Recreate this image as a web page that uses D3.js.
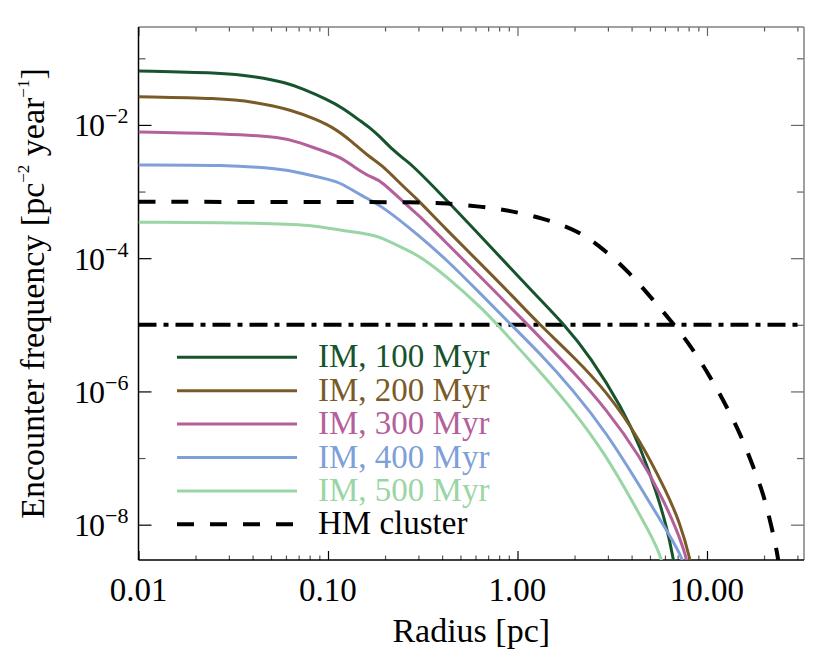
<!DOCTYPE html>
<html>
<head>
<script src="https://d3js.org/d3.v7.min.js"></script>
<style>
  body { margin: 0; background: #fff; }
</style>
</head>
<body>
<div id="chart"></div>
<script>
// radius [pc], encounter frequency [pc^-2 yr^-1]
var im100 = [[0.01,6.46e-2],[0.027,6.08e-2],[0.042,5.3e-2],[0.0605,4.3e-2],[0.074,3.47e-2],[0.098,2.45e-2],[0.12,1.8e-2],[0.153,1.07e-2],[0.167,9.0e-3],[0.188,6.67e-3],[0.22,4.2e-3],[0.255,2.99e-3],[0.277,2.51e-3],[0.39,9.46e-4],[0.634,2.19e-4],[0.946,6.5e-5],[1.26,2.72e-5],[1.75,1.04e-5],[2.42,3.35e-6],[3.61,5.31e-7],[4.43,1.5e-7],[5.43,2.99e-8],[6.12,9.4e-9],[6.64,3.16e-9],[6.9,1.5e-9]];
var im200 = [[0.01,2.65e-2],[0.027,2.51e-2],[0.04,2.24e-2],[0.065,1.68e-2],[0.0875,1.19e-2],[0.106,9.23e-3],[0.131,5.96e-3],[0.167,3.2e-3],[0.188,2.67e-3],[0.26,1.06e-3],[0.281,8.9e-4],[0.423,2.66e-4],[0.634,8.43e-5],[0.946,2.66e-5],[1.31,1.0e-5],[1.96,3.4e-6],[2.96,1.0e-6],[4.43,1.88e-7],[6.12,3.1e-8],[7.21,1.06e-8],[8.13,3.16e-9],[8.5,1.5e-9]];
var im300 = [[0.01,7.85e-3],[0.029,7.41e-3],[0.058,6.53e-3],[0.071,5.42e-3],[0.094,4.07e-3],[0.116,3.35e-3],[0.153,1.88e-3],[0.173,1.6e-3],[0.188,1.5e-3],[0.271,5.62e-4],[0.294,4.73e-4],[0.423,1.68e-4],[0.634,5.31e-5],[1.12,1.04e-5],[1.31,6.5e-6],[1.96,2.0e-6],[2.96,5.31e-7],[4.43,1.06e-7],[5.88,2.37e-8],[6.92,8.41e-9],[7.82,3.16e-9],[8.2,1.5e-9]];
var im400 = [[0.01,2.51e-3],[0.029,2.51e-3],[0.056,2.19e-3],[0.071,1.92e-3],[0.103,1.5e-3],[0.116,1.36e-3],[0.153,8.41e-4],[0.195,5.96e-4],[0.306,2.11e-4],[0.423,9.44e-5],[0.634,2.99e-5],[0.912,1.04e-5],[1.31,3.76e-6],[1.96,1.06e-6],[2.96,2.37e-7],[4.43,3.76e-8],[5.65,1.19e-8],[7.5,3.16e-9],[7.9,1.5e-9]];
var im500 = [[0.01,3.47e-4],[0.058,3.35e-4],[0.083,3.09e-4],[0.12,2.6e-4],[0.153,2.37e-4],[0.167,2.24e-4],[0.188,2.11e-4],[0.271,1.26e-4],[0.306,1.06e-4],[0.423,5.31e-5],[0.634,1.88e-5],[0.776,1.04e-5],[1.31,2.0e-6],[1.96,5.31e-7],[2.96,1.06e-7],[4.08,2.11e-8],[5.0,7.5e-9],[5.77,3.16e-9],[6.1,1.5e-9]];
var hmCluster = [[0.01,7.0e-4],[0.1,7.0e-4],[0.3,6.9e-4],[0.423,6.7e-4],[0.634,5.96e-4],[0.912,5.19e-4],[1.36,3.98e-4],[2.05,2.66e-4],[2.82,1.41e-4],[3.93,5.96e-5],[5.19,2.37e-5],[6.64,1.04e-5],[8.13,5.01e-6],[10.4,1.66e-6],[12.7,5.96e-7],[15.2,2.11e-7],[17.5,7.5e-8],[19.8,2.99e-8],[21.9,9.44e-9],[23.7,3.35e-9],[24.5,1.5e-9]];
var thresholdLevel = 1e-5;

var seriesNames = ["IM, 100 Myr", "IM, 200 Myr", "IM, 300 Myr", "IM, 400 Myr", "IM, 500 Myr", "HM cluster"];
var seriesColors = ["#17532d", "#7a5b27", "#b3609b", "#7e9fd8", "#99d5a5", "#000000"];
var seriesData = [im100, im200, im300, im400, im500, hmCluster];

var xTickLabels = [0.01, 0.1, 1, 10];
var yTickLabels = [-2, -4, -6, -8];   // exponents
var yMinorExps = [-1, -3, -5, -7];

var serif = "'Liberation Serif', 'Times New Roman', Tinos, Times, 'DejaVu Serif', serif";
var width = 830, height = 663;
var margin = {left: 138.5, right: 26, top: 27, bottom: 103};

var svg = d3.select("#chart").append("svg")
  .attr("width", width)
  .attr("height", height)
  .attr("font-family", serif);

var x = d3.scaleLog().domain([0.01, 32.5]).range([margin.left, width - margin.right]);
var y = d3.scaleLog().domain([2.95e-9, 0.295]).range([height - margin.bottom, margin.top]);

svg.append("defs").append("clipPath").attr("id", "plotclip")
  .append("rect")
  .attr("x", margin.left).attr("y", margin.top)
  .attr("width", x.range()[1] - x.range()[0])
  .attr("height", y.range()[0] - y.range()[1]);

// x tick values: all 1..9 multiples inside the domain
var xMinor = [];
[-2, -1, 0, 1].forEach(function (e) {
  for (var m = 2; m <= 9; m++) {
    var v = m * Math.pow(10, e);
    if (v <= x.domain()[1]) xMinor.push(v);
  }
});

function styleAxis(g, color) {
  g.select(".domain").remove();
  g.selectAll(".tick line").attr("stroke", color).attr("stroke-width", 1.2);
  g.selectAll(".tick text").remove();
}

var x0 = x.range()[0], x1 = x.range()[1], y0 = y.range()[0], y1 = y.range()[1];

// bottom / top
svg.append("g").attr("transform", "translate(0," + y0 + ")")
  .call(d3.axisBottom(x).tickValues(xTickLabels).tickSize(-9)).call(styleAxis, "#000");
svg.append("g").attr("transform", "translate(0," + y0 + ")")
  .call(d3.axisBottom(x).tickValues(xMinor).tickSize(-4.5)).call(styleAxis, "#555");
svg.append("g").attr("transform", "translate(0," + y1 + ")")
  .call(d3.axisTop(x).tickValues(xTickLabels).tickSize(-9)).call(styleAxis, "#666");
svg.append("g").attr("transform", "translate(0," + y1 + ")")
  .call(d3.axisTop(x).tickValues(xMinor).tickSize(-4.5)).call(styleAxis, "#555");

var yMajorVals = yTickLabels.map(function (e) { return Math.pow(10, e); });
var yMinorVals = yMinorExps.map(function (e) { return Math.pow(10, e); });

// left / right
svg.append("g").attr("transform", "translate(" + x0 + ",0)")
  .call(d3.axisLeft(y).tickValues(yMajorVals).tickSize(-13)).call(styleAxis, "#000");
svg.append("g").attr("transform", "translate(" + x0 + ",0)")
  .call(d3.axisLeft(y).tickValues(yMinorVals).tickSize(-7)).call(styleAxis, "#555");
svg.append("g").attr("transform", "translate(" + x1 + ",0)")
  .call(d3.axisRight(y).tickValues(yMajorVals).tickSize(-13)).call(styleAxis, "#666");
svg.append("g").attr("transform", "translate(" + x1 + ",0)")
  .call(d3.axisRight(y).tickValues(yMinorVals).tickSize(-7)).call(styleAxis, "#666");

// spines
svg.append("line").attr("x1", x0).attr("x2", x1).attr("y1", y1).attr("y2", y1).attr("stroke", "#808080").attr("stroke-width", 1.5);
svg.append("line").attr("x1", x1).attr("x2", x1).attr("y1", y1).attr("y2", y0).attr("stroke", "#808080").attr("stroke-width", 1.5);
svg.append("line").attr("x1", x0).attr("x2", x1).attr("y1", y0).attr("y2", y0).attr("stroke", "#000").attr("stroke-width", 1.5);
svg.append("line").attr("x1", x0).attr("x2", x0).attr("y1", y1).attr("y2", y0).attr("stroke", "#000").attr("stroke-width", 1.5);

// x tick labels
svg.append("g").selectAll("text").data(xTickLabels).enter().append("text")
  .attr("x", function (d) { return x(d); })
  .attr("y", y0 + 41)
  .attr("text-anchor", "middle")
  .attr("font-size", 33)
  .text(function (d) { return d3.format(".2f")(d); });

// y tick labels 10^n
var ylab = svg.append("g").selectAll("text").data(yTickLabels).enter().append("text")
  .attr("x", x0 - 10)
  .attr("y", function (d) { return y(Math.pow(10, d)) + 11.5; })
  .attr("text-anchor", "end")
  .attr("font-size", 32);
ylab.append("tspan").attr("letter-spacing", -1).text("10");
ylab.append("tspan").attr("font-size", 22).attr("dy", -13).attr("dx", 1).text(function (d) { return "\u2212" + Math.abs(d); });

// axis titles
svg.append("text")
  .attr("x", (x0 + x1) / 2)
  .attr("y", 642)
  .attr("text-anchor", "middle")
  .attr("font-size", 34)
  .text("Radius [pc]");

var yt = svg.append("text")
  .attr("transform", "translate(44," + ((y0 + y1) / 2) + ") rotate(-90)")
  .attr("text-anchor", "middle")
  .attr("font-size", 34);
yt.append("tspan").text("Encounter frequency [pc");
yt.append("tspan").attr("font-size", 17).attr("dy", -15).text("\u22122");
yt.append("tspan").attr("dy", 15).text(" year");
yt.append("tspan").attr("font-size", 17).attr("dy", -15).text("\u22121");
yt.append("tspan").attr("dy", 15).text("]");

// curves
var line = d3.line()
  .x(function (d) { return x(d[0]); })
  .y(function (d) { return y(d[1]); })
  .curve(d3.curveBasis);

var plot = svg.append("g").attr("clip-path", "url(#plotclip)");

plot.append("line")
  .attr("x1", x0).attr("x2", x1)
  .attr("y1", y(thresholdLevel)).attr("y2", y(thresholdLevel))
  .attr("stroke", "#000").attr("stroke-width", 4)
  .attr("stroke-dasharray", "18,7,5,7");

seriesData.forEach(function (s, i) {
  var isHM = i === seriesData.length - 1;
  plot.append("path")
    .datum(s)
    .attr("fill", "none")
    .attr("stroke", seriesColors[i])
    .attr("stroke-width", isHM ? 4 : 3)
    .attr("stroke-dasharray", isHM ? "17,16" : null)
    .attr("d", line);
});

// legend
var legend = svg.append("g");
seriesNames.forEach(function (name, i) {
  var ly = 357.3 + i * 33.4;
  var isHM = i === seriesNames.length - 1;
  legend.append("line")
    .attr("x1", 177).attr("x2", isHM ? 294 : 297)
    .attr("y1", ly).attr("y2", ly)
    .attr("stroke", seriesColors[i])
    .attr("stroke-width", isHM ? 4 : 3)
    .attr("stroke-dasharray", isHM ? "17,16" : null);
  legend.append("text")
    .attr("x", 318).attr("y", ly + 10)
    .attr("font-size", 33)
    .attr("fill", seriesColors[i])
    .text(name);
});
</script>
</body>
</html>
